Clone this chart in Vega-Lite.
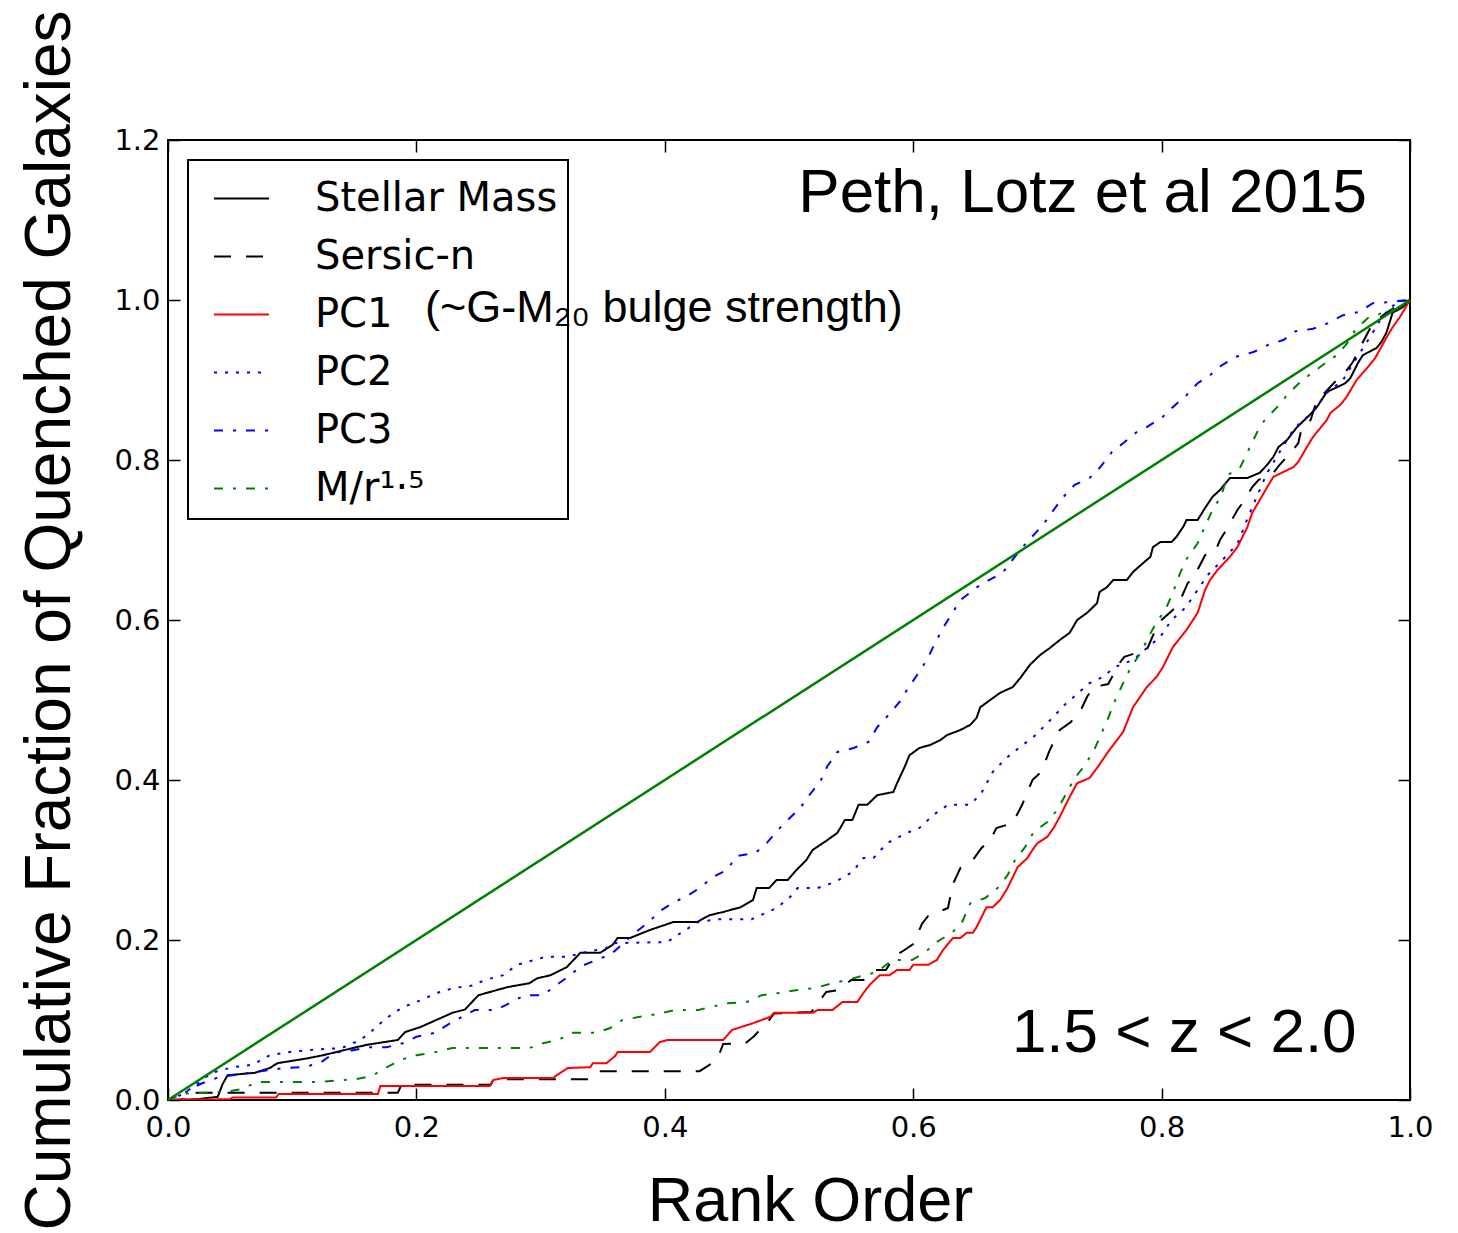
{
  "$schema": "https://vega.github.io/schema/vega-lite/v6.json",
  "width": 1242,
  "height": 960,
  "autosize": {"type": "none"},
  "padding": {"left": 168, "top": 140, "right": 48, "bottom": 133},
  "background": "white",
  "config": {
    "view": {"stroke": "black", "strokeWidth": 2},
    "axis": {
      "domain": false,
      "grid": false,
      "ticks": true,
      "tickColor": "black",
      "tickWidth": 1.5,
      "tickSize": -12,
      "labelFont": "DejaVu Sans",
      "labelFontSize": 29,
      "labelColor": "black",
      "labelFlush": false,
      "labelOverlap": false,
      "labelBound": false,
      "titleFont": "Liberation Sans",
      "titleFontWeight": "normal",
      "titleColor": "black"
    },
    "legend": {
      "orient": "top-left",
      "offset": 20,
      "strokeColor": "black",
      "strokeWidth": 2,
      "padding": 10,
      "labelFont": "DejaVu Sans",
      "labelFontSize": 40,
      "labelColor": "black",
      "labelLimit": 400,
      "labelOffset": 45,
      "symbolType": "stroke",
      "symbolSize": 3025,
      "symbolStrokeWidth": 2,
      "symbolOffset": 15,
      "rowPadding": 9
    }
  },
  "datasets": {
    "curves": [
      {"series": "Stellar Mass", "rank": 0, "frac": 0},
      {"series": "Stellar Mass", "rank": 0.024, "frac": 0.001},
      {"series": "Stellar Mass", "rank": 0.04, "frac": 0.004},
      {"series": "Stellar Mass", "rank": 0.044, "frac": 0.02},
      {"series": "Stellar Mass", "rank": 0.048, "frac": 0.031},
      {"series": "Stellar Mass", "rank": 0.07, "frac": 0.034},
      {"series": "Stellar Mass", "rank": 0.082, "frac": 0.04},
      {"series": "Stellar Mass", "rank": 0.088, "frac": 0.046},
      {"series": "Stellar Mass", "rank": 0.112, "frac": 0.052},
      {"series": "Stellar Mass", "rank": 0.125, "frac": 0.056},
      {"series": "Stellar Mass", "rank": 0.149, "frac": 0.065},
      {"series": "Stellar Mass", "rank": 0.16, "frac": 0.069},
      {"series": "Stellar Mass", "rank": 0.185, "frac": 0.075},
      {"series": "Stellar Mass", "rank": 0.191, "frac": 0.085},
      {"series": "Stellar Mass", "rank": 0.203, "frac": 0.091},
      {"series": "Stellar Mass", "rank": 0.229, "frac": 0.109},
      {"series": "Stellar Mass", "rank": 0.239, "frac": 0.113},
      {"series": "Stellar Mass", "rank": 0.25, "frac": 0.131},
      {"series": "Stellar Mass", "rank": 0.273, "frac": 0.141},
      {"series": "Stellar Mass", "rank": 0.291, "frac": 0.146},
      {"series": "Stellar Mass", "rank": 0.297, "frac": 0.152},
      {"series": "Stellar Mass", "rank": 0.308, "frac": 0.156},
      {"series": "Stellar Mass", "rank": 0.321, "frac": 0.166},
      {"series": "Stellar Mass", "rank": 0.332, "frac": 0.184},
      {"series": "Stellar Mass", "rank": 0.348, "frac": 0.184},
      {"series": "Stellar Mass", "rank": 0.358, "frac": 0.194},
      {"series": "Stellar Mass", "rank": 0.362, "frac": 0.2025},
      {"series": "Stellar Mass", "rank": 0.372, "frac": 0.2025},
      {"series": "Stellar Mass", "rank": 0.388, "frac": 0.2125},
      {"series": "Stellar Mass", "rank": 0.407, "frac": 0.2225},
      {"series": "Stellar Mass", "rank": 0.426, "frac": 0.2225},
      {"series": "Stellar Mass", "rank": 0.436, "frac": 0.231},
      {"series": "Stellar Mass", "rank": 0.447, "frac": 0.235},
      {"series": "Stellar Mass", "rank": 0.461, "frac": 0.241},
      {"series": "Stellar Mass", "rank": 0.471, "frac": 0.25},
      {"series": "Stellar Mass", "rank": 0.474, "frac": 0.265},
      {"series": "Stellar Mass", "rank": 0.484, "frac": 0.265},
      {"series": "Stellar Mass", "rank": 0.49, "frac": 0.275},
      {"series": "Stellar Mass", "rank": 0.499, "frac": 0.275},
      {"series": "Stellar Mass", "rank": 0.506, "frac": 0.2875},
      {"series": "Stellar Mass", "rank": 0.514, "frac": 0.3},
      {"series": "Stellar Mass", "rank": 0.519, "frac": 0.3125},
      {"series": "Stellar Mass", "rank": 0.531, "frac": 0.325},
      {"series": "Stellar Mass", "rank": 0.539, "frac": 0.334},
      {"series": "Stellar Mass", "rank": 0.545, "frac": 0.35},
      {"series": "Stellar Mass", "rank": 0.551, "frac": 0.35},
      {"series": "Stellar Mass", "rank": 0.556, "frac": 0.369},
      {"series": "Stellar Mass", "rank": 0.563, "frac": 0.369},
      {"series": "Stellar Mass", "rank": 0.571, "frac": 0.381},
      {"series": "Stellar Mass", "rank": 0.584, "frac": 0.385},
      {"series": "Stellar Mass", "rank": 0.587, "frac": 0.396},
      {"series": "Stellar Mass", "rank": 0.593, "frac": 0.416},
      {"series": "Stellar Mass", "rank": 0.597, "frac": 0.431},
      {"series": "Stellar Mass", "rank": 0.605, "frac": 0.44},
      {"series": "Stellar Mass", "rank": 0.614, "frac": 0.444},
      {"series": "Stellar Mass", "rank": 0.622, "frac": 0.45},
      {"series": "Stellar Mass", "rank": 0.627, "frac": 0.456},
      {"series": "Stellar Mass", "rank": 0.638, "frac": 0.4625},
      {"series": "Stellar Mass", "rank": 0.646, "frac": 0.469},
      {"series": "Stellar Mass", "rank": 0.651, "frac": 0.4775},
      {"series": "Stellar Mass", "rank": 0.654, "frac": 0.491},
      {"series": "Stellar Mass", "rank": 0.662, "frac": 0.5},
      {"series": "Stellar Mass", "rank": 0.67, "frac": 0.509},
      {"series": "Stellar Mass", "rank": 0.68, "frac": 0.516},
      {"series": "Stellar Mass", "rank": 0.686, "frac": 0.527},
      {"series": "Stellar Mass", "rank": 0.694, "frac": 0.544},
      {"series": "Stellar Mass", "rank": 0.702, "frac": 0.556},
      {"series": "Stellar Mass", "rank": 0.71, "frac": 0.565},
      {"series": "Stellar Mass", "rank": 0.718, "frac": 0.575},
      {"series": "Stellar Mass", "rank": 0.726, "frac": 0.584},
      {"series": "Stellar Mass", "rank": 0.732, "frac": 0.6},
      {"series": "Stellar Mass", "rank": 0.74, "frac": 0.609},
      {"series": "Stellar Mass", "rank": 0.748, "frac": 0.621},
      {"series": "Stellar Mass", "rank": 0.75, "frac": 0.635},
      {"series": "Stellar Mass", "rank": 0.756, "frac": 0.641},
      {"series": "Stellar Mass", "rank": 0.761, "frac": 0.65},
      {"series": "Stellar Mass", "rank": 0.772, "frac": 0.65},
      {"series": "Stellar Mass", "rank": 0.777, "frac": 0.66},
      {"series": "Stellar Mass", "rank": 0.785, "frac": 0.671},
      {"series": "Stellar Mass", "rank": 0.791, "frac": 0.679},
      {"series": "Stellar Mass", "rank": 0.793, "frac": 0.691},
      {"series": "Stellar Mass", "rank": 0.799, "frac": 0.6975},
      {"series": "Stellar Mass", "rank": 0.808, "frac": 0.6975},
      {"series": "Stellar Mass", "rank": 0.812, "frac": 0.704},
      {"series": "Stellar Mass", "rank": 0.818, "frac": 0.718},
      {"series": "Stellar Mass", "rank": 0.82, "frac": 0.725},
      {"series": "Stellar Mass", "rank": 0.829, "frac": 0.725},
      {"series": "Stellar Mass", "rank": 0.835, "frac": 0.74},
      {"series": "Stellar Mass", "rank": 0.841, "frac": 0.754},
      {"series": "Stellar Mass", "rank": 0.847, "frac": 0.7625},
      {"series": "Stellar Mass", "rank": 0.855, "frac": 0.7775},
      {"series": "Stellar Mass", "rank": 0.869, "frac": 0.7775},
      {"series": "Stellar Mass", "rank": 0.879, "frac": 0.784},
      {"series": "Stellar Mass", "rank": 0.885, "frac": 0.794},
      {"series": "Stellar Mass", "rank": 0.89, "frac": 0.804},
      {"series": "Stellar Mass", "rank": 0.894, "frac": 0.816},
      {"series": "Stellar Mass", "rank": 0.901, "frac": 0.825},
      {"series": "Stellar Mass", "rank": 0.909, "frac": 0.841},
      {"series": "Stellar Mass", "rank": 0.915, "frac": 0.85},
      {"series": "Stellar Mass", "rank": 0.919, "frac": 0.856},
      {"series": "Stellar Mass", "rank": 0.925, "frac": 0.866},
      {"series": "Stellar Mass", "rank": 0.933, "frac": 0.885},
      {"series": "Stellar Mass", "rank": 0.948, "frac": 0.896},
      {"series": "Stellar Mass", "rank": 0.952, "frac": 0.9025},
      {"series": "Stellar Mass", "rank": 0.958, "frac": 0.921},
      {"series": "Stellar Mass", "rank": 0.962, "frac": 0.931},
      {"series": "Stellar Mass", "rank": 0.973, "frac": 0.94},
      {"series": "Stellar Mass", "rank": 0.977, "frac": 0.9475},
      {"series": "Stellar Mass", "rank": 0.981, "frac": 0.959},
      {"series": "Stellar Mass", "rank": 0.986, "frac": 0.984},
      {"series": "Stellar Mass", "rank": 0.994, "frac": 0.991},
      {"series": "Stellar Mass", "rank": 1.0, "frac": 1.0},

      {"series": "Sersic-n", "rank": 0, "frac": 0},
      {"series": "Sersic-n", "rank": 0.018, "frac": 0.001},
      {"series": "Sersic-n", "rank": 0.02, "frac": 0.009},
      {"series": "Sersic-n", "rank": 0.185, "frac": 0.009},
      {"series": "Sersic-n", "rank": 0.188, "frac": 0.019},
      {"series": "Sersic-n", "rank": 0.26, "frac": 0.019},
      {"series": "Sersic-n", "rank": 0.262, "frac": 0.026},
      {"series": "Sersic-n", "rank": 0.338, "frac": 0.026},
      {"series": "Sersic-n", "rank": 0.345, "frac": 0.036},
      {"series": "Sersic-n", "rank": 0.428, "frac": 0.036},
      {"series": "Sersic-n", "rank": 0.437, "frac": 0.045},
      {"series": "Sersic-n", "rank": 0.443, "frac": 0.054},
      {"series": "Sersic-n", "rank": 0.447, "frac": 0.07},
      {"series": "Sersic-n", "rank": 0.465, "frac": 0.071},
      {"series": "Sersic-n", "rank": 0.472, "frac": 0.08},
      {"series": "Sersic-n", "rank": 0.478, "frac": 0.09},
      {"series": "Sersic-n", "rank": 0.484, "frac": 0.1},
      {"series": "Sersic-n", "rank": 0.488, "frac": 0.108},
      {"series": "Sersic-n", "rank": 0.518, "frac": 0.11},
      {"series": "Sersic-n", "rank": 0.53, "frac": 0.135},
      {"series": "Sersic-n", "rank": 0.54, "frac": 0.1375},
      {"series": "Sersic-n", "rank": 0.55, "frac": 0.15},
      {"series": "Sersic-n", "rank": 0.56, "frac": 0.15},
      {"series": "Sersic-n", "rank": 0.57, "frac": 0.1625},
      {"series": "Sersic-n", "rank": 0.578, "frac": 0.1625},
      {"series": "Sersic-n", "rank": 0.585, "frac": 0.18},
      {"series": "Sersic-n", "rank": 0.593, "frac": 0.1875},
      {"series": "Sersic-n", "rank": 0.6, "frac": 0.195},
      {"series": "Sersic-n", "rank": 0.607, "frac": 0.22},
      {"series": "Sersic-n", "rank": 0.612, "frac": 0.23},
      {"series": "Sersic-n", "rank": 0.62, "frac": 0.235},
      {"series": "Sersic-n", "rank": 0.628, "frac": 0.24},
      {"series": "Sersic-n", "rank": 0.632, "frac": 0.27},
      {"series": "Sersic-n", "rank": 0.638, "frac": 0.29},
      {"series": "Sersic-n", "rank": 0.648, "frac": 0.3},
      {"series": "Sersic-n", "rank": 0.655, "frac": 0.315},
      {"series": "Sersic-n", "rank": 0.662, "frac": 0.325},
      {"series": "Sersic-n", "rank": 0.667, "frac": 0.34},
      {"series": "Sersic-n", "rank": 0.68, "frac": 0.346},
      {"series": "Sersic-n", "rank": 0.688, "frac": 0.37},
      {"series": "Sersic-n", "rank": 0.696, "frac": 0.4},
      {"series": "Sersic-n", "rank": 0.703, "frac": 0.41},
      {"series": "Sersic-n", "rank": 0.71, "frac": 0.4375},
      {"series": "Sersic-n", "rank": 0.718, "frac": 0.4625},
      {"series": "Sersic-n", "rank": 0.727, "frac": 0.4725},
      {"series": "Sersic-n", "rank": 0.735, "frac": 0.4875},
      {"series": "Sersic-n", "rank": 0.74, "frac": 0.504},
      {"series": "Sersic-n", "rank": 0.745, "frac": 0.516},
      {"series": "Sersic-n", "rank": 0.757, "frac": 0.52},
      {"series": "Sersic-n", "rank": 0.766, "frac": 0.546},
      {"series": "Sersic-n", "rank": 0.77, "frac": 0.554},
      {"series": "Sersic-n", "rank": 0.78, "frac": 0.559},
      {"series": "Sersic-n", "rank": 0.788, "frac": 0.5625},
      {"series": "Sersic-n", "rank": 0.795, "frac": 0.5875},
      {"series": "Sersic-n", "rank": 0.8, "frac": 0.6},
      {"series": "Sersic-n", "rank": 0.809, "frac": 0.6125},
      {"series": "Sersic-n", "rank": 0.814, "frac": 0.621},
      {"series": "Sersic-n", "rank": 0.821, "frac": 0.646},
      {"series": "Sersic-n", "rank": 0.826, "frac": 0.654},
      {"series": "Sersic-n", "rank": 0.835, "frac": 0.681},
      {"series": "Sersic-n", "rank": 0.843, "frac": 0.685},
      {"series": "Sersic-n", "rank": 0.847, "frac": 0.7},
      {"series": "Sersic-n", "rank": 0.853, "frac": 0.715},
      {"series": "Sersic-n", "rank": 0.861, "frac": 0.7375},
      {"series": "Sersic-n", "rank": 0.865, "frac": 0.746},
      {"series": "Sersic-n", "rank": 0.873, "frac": 0.766},
      {"series": "Sersic-n", "rank": 0.878, "frac": 0.775},
      {"series": "Sersic-n", "rank": 0.89, "frac": 0.784},
      {"series": "Sersic-n", "rank": 0.895, "frac": 0.794},
      {"series": "Sersic-n", "rank": 0.904, "frac": 0.809},
      {"series": "Sersic-n", "rank": 0.91, "frac": 0.821},
      {"series": "Sersic-n", "rank": 0.913, "frac": 0.841},
      {"series": "Sersic-n", "rank": 0.92, "frac": 0.85},
      {"series": "Sersic-n", "rank": 0.925, "frac": 0.875},
      {"series": "Sersic-n", "rank": 0.932, "frac": 0.885},
      {"series": "Sersic-n", "rank": 0.941, "frac": 0.9},
      {"series": "Sersic-n", "rank": 0.948, "frac": 0.91},
      {"series": "Sersic-n", "rank": 0.954, "frac": 0.9225},
      {"series": "Sersic-n", "rank": 0.958, "frac": 0.935},
      {"series": "Sersic-n", "rank": 0.966, "frac": 0.959},
      {"series": "Sersic-n", "rank": 0.97, "frac": 0.971},
      {"series": "Sersic-n", "rank": 0.981, "frac": 0.984},
      {"series": "Sersic-n", "rank": 0.988, "frac": 0.991},
      {"series": "Sersic-n", "rank": 1.0, "frac": 1.0},

      {"series": "PC1", "rank": 0, "frac": 0},
      {"series": "PC1", "rank": 0.05, "frac": 0.001},
      {"series": "PC1", "rank": 0.052, "frac": 0.003},
      {"series": "PC1", "rank": 0.087, "frac": 0.003},
      {"series": "PC1", "rank": 0.089, "frac": 0.0075},
      {"series": "PC1", "rank": 0.169, "frac": 0.0075},
      {"series": "PC1", "rank": 0.171, "frac": 0.0175},
      {"series": "PC1", "rank": 0.259, "frac": 0.0175},
      {"series": "PC1", "rank": 0.262, "frac": 0.025},
      {"series": "PC1", "rank": 0.27, "frac": 0.0275},
      {"series": "PC1", "rank": 0.31, "frac": 0.0275},
      {"series": "PC1", "rank": 0.313, "frac": 0.031},
      {"series": "PC1", "rank": 0.322, "frac": 0.04},
      {"series": "PC1", "rank": 0.34, "frac": 0.041},
      {"series": "PC1", "rank": 0.342, "frac": 0.046},
      {"series": "PC1", "rank": 0.353, "frac": 0.046},
      {"series": "PC1", "rank": 0.36, "frac": 0.055},
      {"series": "PC1", "rank": 0.362, "frac": 0.06},
      {"series": "PC1", "rank": 0.388, "frac": 0.06},
      {"series": "PC1", "rank": 0.396, "frac": 0.0725},
      {"series": "PC1", "rank": 0.402, "frac": 0.075},
      {"series": "PC1", "rank": 0.447, "frac": 0.075},
      {"series": "PC1", "rank": 0.454, "frac": 0.0875},
      {"series": "PC1", "rank": 0.471, "frac": 0.096},
      {"series": "PC1", "rank": 0.485, "frac": 0.104},
      {"series": "PC1", "rank": 0.488, "frac": 0.109},
      {"series": "PC1", "rank": 0.519, "frac": 0.109},
      {"series": "PC1", "rank": 0.523, "frac": 0.1125},
      {"series": "PC1", "rank": 0.535, "frac": 0.1125},
      {"series": "PC1", "rank": 0.543, "frac": 0.1225},
      {"series": "PC1", "rank": 0.555, "frac": 0.1225},
      {"series": "PC1", "rank": 0.56, "frac": 0.134},
      {"series": "PC1", "rank": 0.565, "frac": 0.144},
      {"series": "PC1", "rank": 0.573, "frac": 0.156},
      {"series": "PC1", "rank": 0.581, "frac": 0.156},
      {"series": "PC1", "rank": 0.587, "frac": 0.1625},
      {"series": "PC1", "rank": 0.597, "frac": 0.1625},
      {"series": "PC1", "rank": 0.6, "frac": 0.169},
      {"series": "PC1", "rank": 0.612, "frac": 0.169},
      {"series": "PC1", "rank": 0.619, "frac": 0.175},
      {"series": "PC1", "rank": 0.624, "frac": 0.1875},
      {"series": "PC1", "rank": 0.632, "frac": 0.2025},
      {"series": "PC1", "rank": 0.638, "frac": 0.2025},
      {"series": "PC1", "rank": 0.643, "frac": 0.209},
      {"series": "PC1", "rank": 0.648, "frac": 0.209},
      {"series": "PC1", "rank": 0.651, "frac": 0.216},
      {"series": "PC1", "rank": 0.659, "frac": 0.241},
      {"series": "PC1", "rank": 0.664, "frac": 0.241},
      {"series": "PC1", "rank": 0.67, "frac": 0.25},
      {"series": "PC1", "rank": 0.676, "frac": 0.265},
      {"series": "PC1", "rank": 0.684, "frac": 0.291},
      {"series": "PC1", "rank": 0.692, "frac": 0.3025},
      {"series": "PC1", "rank": 0.696, "frac": 0.3125},
      {"series": "PC1", "rank": 0.7, "frac": 0.321},
      {"series": "PC1", "rank": 0.708, "frac": 0.329},
      {"series": "PC1", "rank": 0.713, "frac": 0.34},
      {"series": "PC1", "rank": 0.718, "frac": 0.354},
      {"series": "PC1", "rank": 0.726, "frac": 0.379},
      {"series": "PC1", "rank": 0.732, "frac": 0.396},
      {"series": "PC1", "rank": 0.742, "frac": 0.4025},
      {"series": "PC1", "rank": 0.748, "frac": 0.415},
      {"series": "PC1", "rank": 0.758, "frac": 0.4375},
      {"series": "PC1", "rank": 0.769, "frac": 0.46},
      {"series": "PC1", "rank": 0.777, "frac": 0.491},
      {"series": "PC1", "rank": 0.788, "frac": 0.516},
      {"series": "PC1", "rank": 0.796, "frac": 0.529},
      {"series": "PC1", "rank": 0.801, "frac": 0.541},
      {"series": "PC1", "rank": 0.809, "frac": 0.566},
      {"series": "PC1", "rank": 0.82, "frac": 0.5875},
      {"series": "PC1", "rank": 0.829, "frac": 0.609},
      {"series": "PC1", "rank": 0.835, "frac": 0.6375},
      {"series": "PC1", "rank": 0.839, "frac": 0.65},
      {"series": "PC1", "rank": 0.845, "frac": 0.6625},
      {"series": "PC1", "rank": 0.855, "frac": 0.679},
      {"series": "PC1", "rank": 0.861, "frac": 0.691},
      {"series": "PC1", "rank": 0.869, "frac": 0.716},
      {"series": "PC1", "rank": 0.873, "frac": 0.734},
      {"series": "PC1", "rank": 0.885, "frac": 0.766},
      {"series": "PC1", "rank": 0.89, "frac": 0.779},
      {"series": "PC1", "rank": 0.906, "frac": 0.791},
      {"series": "PC1", "rank": 0.91, "frac": 0.7975},
      {"series": "PC1", "rank": 0.918, "frac": 0.819},
      {"series": "PC1", "rank": 0.922, "frac": 0.829},
      {"series": "PC1", "rank": 0.933, "frac": 0.85},
      {"series": "PC1", "rank": 0.936, "frac": 0.859},
      {"series": "PC1", "rank": 0.944, "frac": 0.869},
      {"series": "PC1", "rank": 0.949, "frac": 0.879},
      {"series": "PC1", "rank": 0.957, "frac": 0.9},
      {"series": "PC1", "rank": 0.962, "frac": 0.909},
      {"series": "PC1", "rank": 0.966, "frac": 0.916},
      {"series": "PC1", "rank": 0.972, "frac": 0.9275},
      {"series": "PC1", "rank": 0.98, "frac": 0.95},
      {"series": "PC1", "rank": 0.986, "frac": 0.966},
      {"series": "PC1", "rank": 0.992, "frac": 0.979},
      {"series": "PC1", "rank": 1.0, "frac": 1.0},

      {"series": "PC2", "rank": 0, "frac": 0},
      {"series": "PC2", "rank": 0.01, "frac": 0.006},
      {"series": "PC2", "rank": 0.02, "frac": 0.016},
      {"series": "PC2", "rank": 0.035, "frac": 0.034},
      {"series": "PC2", "rank": 0.052, "frac": 0.041},
      {"series": "PC2", "rank": 0.068, "frac": 0.044},
      {"series": "PC2", "rank": 0.082, "frac": 0.056},
      {"series": "PC2", "rank": 0.098, "frac": 0.06},
      {"series": "PC2", "rank": 0.114, "frac": 0.0625},
      {"series": "PC2", "rank": 0.14, "frac": 0.065},
      {"series": "PC2", "rank": 0.155, "frac": 0.075},
      {"series": "PC2", "rank": 0.165, "frac": 0.0875},
      {"series": "PC2", "rank": 0.176, "frac": 0.1025},
      {"series": "PC2", "rank": 0.189, "frac": 0.116},
      {"series": "PC2", "rank": 0.204, "frac": 0.125},
      {"series": "PC2", "rank": 0.217, "frac": 0.134},
      {"series": "PC2", "rank": 0.23, "frac": 0.14},
      {"series": "PC2", "rank": 0.245, "frac": 0.143},
      {"series": "PC2", "rank": 0.255, "frac": 0.15},
      {"series": "PC2", "rank": 0.27, "frac": 0.156},
      {"series": "PC2", "rank": 0.281, "frac": 0.169},
      {"series": "PC2", "rank": 0.295, "frac": 0.175},
      {"series": "PC2", "rank": 0.304, "frac": 0.179},
      {"series": "PC2", "rank": 0.321, "frac": 0.179},
      {"series": "PC2", "rank": 0.337, "frac": 0.185},
      {"series": "PC2", "rank": 0.353, "frac": 0.19},
      {"series": "PC2", "rank": 0.358, "frac": 0.196},
      {"series": "PC2", "rank": 0.402, "frac": 0.1975},
      {"series": "PC2", "rank": 0.414, "frac": 0.21},
      {"series": "PC2", "rank": 0.427, "frac": 0.2225},
      {"series": "PC2", "rank": 0.443, "frac": 0.226},
      {"series": "PC2", "rank": 0.47, "frac": 0.226},
      {"series": "PC2", "rank": 0.483, "frac": 0.235},
      {"series": "PC2", "rank": 0.49, "frac": 0.24},
      {"series": "PC2", "rank": 0.501, "frac": 0.254},
      {"series": "PC2", "rank": 0.507, "frac": 0.265},
      {"series": "PC2", "rank": 0.523, "frac": 0.265},
      {"series": "PC2", "rank": 0.537, "frac": 0.2725},
      {"series": "PC2", "rank": 0.551, "frac": 0.285},
      {"series": "PC2", "rank": 0.56, "frac": 0.3025},
      {"series": "PC2", "rank": 0.568, "frac": 0.3025},
      {"series": "PC2", "rank": 0.579, "frac": 0.321},
      {"series": "PC2", "rank": 0.595, "frac": 0.334},
      {"series": "PC2", "rank": 0.605, "frac": 0.34},
      {"series": "PC2", "rank": 0.616, "frac": 0.356},
      {"series": "PC2", "rank": 0.628, "frac": 0.369},
      {"series": "PC2", "rank": 0.646, "frac": 0.369},
      {"series": "PC2", "rank": 0.655, "frac": 0.384},
      {"series": "PC2", "rank": 0.664, "frac": 0.41},
      {"series": "PC2", "rank": 0.675, "frac": 0.4275},
      {"series": "PC2", "rank": 0.685, "frac": 0.44},
      {"series": "PC2", "rank": 0.697, "frac": 0.454},
      {"series": "PC2", "rank": 0.708, "frac": 0.471},
      {"series": "PC2", "rank": 0.722, "frac": 0.494},
      {"series": "PC2", "rank": 0.733, "frac": 0.509},
      {"series": "PC2", "rank": 0.742, "frac": 0.521},
      {"series": "PC2", "rank": 0.753, "frac": 0.529},
      {"series": "PC2", "rank": 0.762, "frac": 0.541},
      {"series": "PC2", "rank": 0.777, "frac": 0.55},
      {"series": "PC2", "rank": 0.789, "frac": 0.566},
      {"series": "PC2", "rank": 0.799, "frac": 0.579},
      {"series": "PC2", "rank": 0.808, "frac": 0.6},
      {"series": "PC2", "rank": 0.819, "frac": 0.615},
      {"series": "PC2", "rank": 0.829, "frac": 0.6375},
      {"series": "PC2", "rank": 0.837, "frac": 0.656},
      {"series": "PC2", "rank": 0.849, "frac": 0.675},
      {"series": "PC2", "rank": 0.861, "frac": 0.695},
      {"series": "PC2", "rank": 0.87, "frac": 0.73},
      {"series": "PC2", "rank": 0.878, "frac": 0.759},
      {"series": "PC2", "rank": 0.885, "frac": 0.784},
      {"series": "PC2", "rank": 0.897, "frac": 0.815},
      {"series": "PC2", "rank": 0.907, "frac": 0.84},
      {"series": "PC2", "rank": 0.921, "frac": 0.859},
      {"series": "PC2", "rank": 0.933, "frac": 0.884},
      {"series": "PC2", "rank": 0.946, "frac": 0.9},
      {"series": "PC2", "rank": 0.956, "frac": 0.925},
      {"series": "PC2", "rank": 0.968, "frac": 0.954},
      {"series": "PC2", "rank": 0.976, "frac": 0.975},
      {"series": "PC2", "rank": 0.984, "frac": 0.991},
      {"series": "PC2", "rank": 0.994, "frac": 0.999},
      {"series": "PC2", "rank": 1.0, "frac": 1.0},

      {"series": "PC3", "rank": 0, "frac": 0},
      {"series": "PC3", "rank": 0.012, "frac": 0.008},
      {"series": "PC3", "rank": 0.026, "frac": 0.02},
      {"series": "PC3", "rank": 0.04, "frac": 0.028},
      {"series": "PC3", "rank": 0.052, "frac": 0.031},
      {"series": "PC3", "rank": 0.081, "frac": 0.0375},
      {"series": "PC3", "rank": 0.094, "frac": 0.04},
      {"series": "PC3", "rank": 0.109, "frac": 0.041},
      {"series": "PC3", "rank": 0.122, "frac": 0.046},
      {"series": "PC3", "rank": 0.134, "frac": 0.059},
      {"series": "PC3", "rank": 0.148, "frac": 0.062},
      {"series": "PC3", "rank": 0.162, "frac": 0.066},
      {"series": "PC3", "rank": 0.176, "frac": 0.066},
      {"series": "PC3", "rank": 0.189, "frac": 0.071},
      {"series": "PC3", "rank": 0.2, "frac": 0.079},
      {"series": "PC3", "rank": 0.215, "frac": 0.084},
      {"series": "PC3", "rank": 0.225, "frac": 0.094},
      {"series": "PC3", "rank": 0.239, "frac": 0.106},
      {"series": "PC3", "rank": 0.247, "frac": 0.1125},
      {"series": "PC3", "rank": 0.264, "frac": 0.1125},
      {"series": "PC3", "rank": 0.275, "frac": 0.121},
      {"series": "PC3", "rank": 0.287, "frac": 0.131},
      {"series": "PC3", "rank": 0.302, "frac": 0.131},
      {"series": "PC3", "rank": 0.313, "frac": 0.144},
      {"series": "PC3", "rank": 0.322, "frac": 0.154},
      {"series": "PC3", "rank": 0.333, "frac": 0.1675},
      {"series": "PC3", "rank": 0.345, "frac": 0.175},
      {"series": "PC3", "rank": 0.357, "frac": 0.1825},
      {"series": "PC3", "rank": 0.366, "frac": 0.195},
      {"series": "PC3", "rank": 0.376, "frac": 0.209},
      {"series": "PC3", "rank": 0.386, "frac": 0.221},
      {"series": "PC3", "rank": 0.396, "frac": 0.236},
      {"series": "PC3", "rank": 0.406, "frac": 0.246},
      {"series": "PC3", "rank": 0.419, "frac": 0.256},
      {"series": "PC3", "rank": 0.428, "frac": 0.265},
      {"series": "PC3", "rank": 0.439, "frac": 0.279},
      {"series": "PC3", "rank": 0.45, "frac": 0.2875},
      {"series": "PC3", "rank": 0.458, "frac": 0.305},
      {"series": "PC3", "rank": 0.473, "frac": 0.309},
      {"series": "PC3", "rank": 0.482, "frac": 0.321},
      {"series": "PC3", "rank": 0.491, "frac": 0.3375},
      {"series": "PC3", "rank": 0.499, "frac": 0.35},
      {"series": "PC3", "rank": 0.509, "frac": 0.365},
      {"series": "PC3", "rank": 0.517, "frac": 0.3825},
      {"series": "PC3", "rank": 0.525, "frac": 0.3975},
      {"series": "PC3", "rank": 0.531, "frac": 0.4175},
      {"series": "PC3", "rank": 0.539, "frac": 0.435},
      {"series": "PC3", "rank": 0.552, "frac": 0.44},
      {"series": "PC3", "rank": 0.564, "frac": 0.4475},
      {"series": "PC3", "rank": 0.571, "frac": 0.466},
      {"series": "PC3", "rank": 0.58, "frac": 0.481},
      {"series": "PC3", "rank": 0.589, "frac": 0.4975},
      {"series": "PC3", "rank": 0.596, "frac": 0.515},
      {"series": "PC3", "rank": 0.603, "frac": 0.531},
      {"series": "PC3", "rank": 0.611, "frac": 0.55},
      {"series": "PC3", "rank": 0.618, "frac": 0.5725},
      {"series": "PC3", "rank": 0.624, "frac": 0.59},
      {"series": "PC3", "rank": 0.63, "frac": 0.605},
      {"series": "PC3", "rank": 0.638, "frac": 0.625},
      {"series": "PC3", "rank": 0.654, "frac": 0.644},
      {"series": "PC3", "rank": 0.672, "frac": 0.659},
      {"series": "PC3", "rank": 0.686, "frac": 0.6875},
      {"series": "PC3", "rank": 0.705, "frac": 0.72},
      {"series": "PC3", "rank": 0.713, "frac": 0.7375},
      {"series": "PC3", "rank": 0.721, "frac": 0.754},
      {"series": "PC3", "rank": 0.73, "frac": 0.769},
      {"series": "PC3", "rank": 0.742, "frac": 0.7775},
      {"series": "PC3", "rank": 0.75, "frac": 0.79},
      {"series": "PC3", "rank": 0.76, "frac": 0.81},
      {"series": "PC3", "rank": 0.769, "frac": 0.821},
      {"series": "PC3", "rank": 0.78, "frac": 0.835},
      {"series": "PC3", "rank": 0.788, "frac": 0.841},
      {"series": "PC3", "rank": 0.801, "frac": 0.854},
      {"series": "PC3", "rank": 0.809, "frac": 0.866},
      {"series": "PC3", "rank": 0.82, "frac": 0.881},
      {"series": "PC3", "rank": 0.829, "frac": 0.896},
      {"series": "PC3", "rank": 0.839, "frac": 0.906},
      {"series": "PC3", "rank": 0.849, "frac": 0.919},
      {"series": "PC3", "rank": 0.86, "frac": 0.929},
      {"series": "PC3", "rank": 0.874, "frac": 0.935},
      {"series": "PC3", "rank": 0.886, "frac": 0.944},
      {"series": "PC3", "rank": 0.898, "frac": 0.95},
      {"series": "PC3", "rank": 0.908, "frac": 0.961},
      {"series": "PC3", "rank": 0.922, "frac": 0.964},
      {"series": "PC3", "rank": 0.934, "frac": 0.971},
      {"series": "PC3", "rank": 0.946, "frac": 0.981},
      {"series": "PC3", "rank": 0.959, "frac": 0.985},
      {"series": "PC3", "rank": 0.97, "frac": 0.996},
      {"series": "PC3", "rank": 0.984, "frac": 0.9975},
      {"series": "PC3", "rank": 1.0, "frac": 1.0},

      {"series": "M/r¹·⁵", "rank": 0, "frac": 0},
      {"series": "M/r¹·⁵", "rank": 0.012, "frac": 0.008},
      {"series": "M/r¹·⁵", "rank": 0.032, "frac": 0.009},
      {"series": "M/r¹·⁵", "rank": 0.05, "frac": 0.011},
      {"series": "M/r¹·⁵", "rank": 0.06, "frac": 0.014},
      {"series": "M/r¹·⁵", "rank": 0.072, "frac": 0.0225},
      {"series": "M/r¹·⁵", "rank": 0.121, "frac": 0.0225},
      {"series": "M/r¹·⁵", "rank": 0.151, "frac": 0.026},
      {"series": "M/r¹·⁵", "rank": 0.164, "frac": 0.03},
      {"series": "M/r¹·⁵", "rank": 0.175, "frac": 0.04},
      {"series": "M/r¹·⁵", "rank": 0.187, "frac": 0.05},
      {"series": "M/r¹·⁵", "rank": 0.2, "frac": 0.056},
      {"series": "M/r¹·⁵", "rank": 0.213, "frac": 0.059},
      {"series": "M/r¹·⁵", "rank": 0.229, "frac": 0.065},
      {"series": "M/r¹·⁵", "rank": 0.291, "frac": 0.065},
      {"series": "M/r¹·⁵", "rank": 0.302, "frac": 0.071},
      {"series": "M/r¹·⁵", "rank": 0.314, "frac": 0.075},
      {"series": "M/r¹·⁵", "rank": 0.326, "frac": 0.084},
      {"series": "M/r¹·⁵", "rank": 0.345, "frac": 0.084},
      {"series": "M/r¹·⁵", "rank": 0.356, "frac": 0.09},
      {"series": "M/r¹·⁵", "rank": 0.366, "frac": 0.1},
      {"series": "M/r¹·⁵", "rank": 0.38, "frac": 0.104},
      {"series": "M/r¹·⁵", "rank": 0.394, "frac": 0.1075},
      {"series": "M/r¹·⁵", "rank": 0.408, "frac": 0.1125},
      {"series": "M/r¹·⁵", "rank": 0.427, "frac": 0.1125},
      {"series": "M/r¹·⁵", "rank": 0.436, "frac": 0.116},
      {"series": "M/r¹·⁵", "rank": 0.451, "frac": 0.121},
      {"series": "M/r¹·⁵", "rank": 0.466, "frac": 0.1225},
      {"series": "M/r¹·⁵", "rank": 0.478, "frac": 0.131},
      {"series": "M/r¹·⁵", "rank": 0.493, "frac": 0.134},
      {"series": "M/r¹·⁵", "rank": 0.507, "frac": 0.1375},
      {"series": "M/r¹·⁵", "rank": 0.521, "frac": 0.14},
      {"series": "M/r¹·⁵", "rank": 0.535, "frac": 0.146},
      {"series": "M/r¹·⁵", "rank": 0.547, "frac": 0.15},
      {"series": "M/r¹·⁵", "rank": 0.561, "frac": 0.156},
      {"series": "M/r¹·⁵", "rank": 0.571, "frac": 0.16},
      {"series": "M/r¹·⁵", "rank": 0.583, "frac": 0.175},
      {"series": "M/r¹·⁵", "rank": 0.599, "frac": 0.175},
      {"series": "M/r¹·⁵", "rank": 0.609, "frac": 0.184},
      {"series": "M/r¹·⁵", "rank": 0.619, "frac": 0.1975},
      {"series": "M/r¹·⁵", "rank": 0.631, "frac": 0.209},
      {"series": "M/r¹·⁵", "rank": 0.639, "frac": 0.221},
      {"series": "M/r¹·⁵", "rank": 0.646, "frac": 0.246},
      {"series": "M/r¹·⁵", "rank": 0.658, "frac": 0.2525},
      {"series": "M/r¹·⁵", "rank": 0.668, "frac": 0.265},
      {"series": "M/r¹·⁵", "rank": 0.676, "frac": 0.281},
      {"series": "M/r¹·⁵", "rank": 0.682, "frac": 0.3},
      {"series": "M/r¹·⁵", "rank": 0.69, "frac": 0.316},
      {"series": "M/r¹·⁵", "rank": 0.697, "frac": 0.335},
      {"series": "M/r¹·⁵", "rank": 0.708, "frac": 0.3475},
      {"series": "M/r¹·⁵", "rank": 0.716, "frac": 0.3625},
      {"series": "M/r¹·⁵", "rank": 0.73, "frac": 0.4025},
      {"series": "M/r¹·⁵", "rank": 0.737, "frac": 0.416},
      {"series": "M/r¹·⁵", "rank": 0.745, "frac": 0.435},
      {"series": "M/r¹·⁵", "rank": 0.757, "frac": 0.4775},
      {"series": "M/r¹·⁵", "rank": 0.762, "frac": 0.4975},
      {"series": "M/r¹·⁵", "rank": 0.769, "frac": 0.521},
      {"series": "M/r¹·⁵", "rank": 0.775, "frac": 0.54},
      {"series": "M/r¹·⁵", "rank": 0.784, "frac": 0.561},
      {"series": "M/r¹·⁵", "rank": 0.789, "frac": 0.5775},
      {"series": "M/r¹·⁵", "rank": 0.796, "frac": 0.5975},
      {"series": "M/r¹·⁵", "rank": 0.803, "frac": 0.6125},
      {"series": "M/r¹·⁵", "rank": 0.809, "frac": 0.634},
      {"series": "M/r¹·⁵", "rank": 0.815, "frac": 0.659},
      {"series": "M/r¹·⁵", "rank": 0.82, "frac": 0.676},
      {"series": "M/r¹·⁵", "rank": 0.829, "frac": 0.696},
      {"series": "M/r¹·⁵", "rank": 0.835, "frac": 0.7175},
      {"series": "M/r¹·⁵", "rank": 0.841, "frac": 0.7375},
      {"series": "M/r¹·⁵", "rank": 0.848, "frac": 0.755},
      {"series": "M/r¹·⁵", "rank": 0.853, "frac": 0.781},
      {"series": "M/r¹·⁵", "rank": 0.863, "frac": 0.79},
      {"series": "M/r¹·⁵", "rank": 0.87, "frac": 0.8125},
      {"series": "M/r¹·⁵", "rank": 0.877, "frac": 0.835},
      {"series": "M/r¹·⁵", "rank": 0.883, "frac": 0.85},
      {"series": "M/r¹·⁵", "rank": 0.893, "frac": 0.866},
      {"series": "M/r¹·⁵", "rank": 0.901, "frac": 0.881},
      {"series": "M/r¹·⁵", "rank": 0.91, "frac": 0.895},
      {"series": "M/r¹·⁵", "rank": 0.917, "frac": 0.904},
      {"series": "M/r¹·⁵", "rank": 0.93, "frac": 0.919},
      {"series": "M/r¹·⁵", "rank": 0.941, "frac": 0.931},
      {"series": "M/r¹·⁵", "rank": 0.949, "frac": 0.945},
      {"series": "M/r¹·⁵", "rank": 0.956, "frac": 0.9625},
      {"series": "M/r¹·⁵", "rank": 0.966, "frac": 0.9775},
      {"series": "M/r¹·⁵", "rank": 0.978, "frac": 0.984},
      {"series": "M/r¹·⁵", "rank": 0.992, "frac": 0.99},
      {"series": "M/r¹·⁵", "rank": 1.0, "frac": 1.0}
    ],
    "diagonal": [
      {"rank": 0, "frac": 0},
      {"rank": 1, "frac": 1}
    ],
    "notes": [
      {"note": "annotation"}
    ]
  },
  "layer": [
    {
      "data": {"name": "curves"},
      "mark": {"type": "line", "strokeWidth": 2, "clip": true},
      "encoding": {
        "x": {
          "field": "rank",
          "type": "quantitative",
          "scale": {"domain": [0, 1], "nice": false, "zero": false},
          "axis": {
            "orient": "bottom",
            "values": [0, 0.2, 0.4, 0.6, 0.8, 1.0],
            "format": ".1f",
            "labelPadding": 25,
            "title": "Rank Order",
            "titleFontSize": 63,
            "titlePadding": 28,
            "titleX": 642
          }
        },
        "y": {
          "field": "frac",
          "type": "quantitative",
          "scale": {"domain": [0, 1.2], "nice": false, "zero": false},
          "axis": {
            "orient": "left",
            "values": [0, 0.2, 0.4, 0.6, 0.8, 1.0, 1.2],
            "format": ".1f",
            "labelPadding": 20,
            "title": "Cumulative Fraction of Quenched Galaxies",
            "titleFontSize": 64,
            "titlePadding": 31
          }
        },
        "color": {
          "field": "series",
          "type": "nominal",
          "scale": {
            "domain": ["Stellar Mass", "Sersic-n", "PC1", "PC2", "PC3", "M/r¹·⁵"],
            "range": ["#000000", "#000000", "#ff0000", "#0000ff", "#0000ff", "#008000"]
          },
          "legend": {"title": null}
        },
        "strokeDash": {
          "field": "series",
          "type": "nominal",
          "scale": {
            "domain": ["Stellar Mass", "Sersic-n", "PC1", "PC2", "PC3", "M/r¹·⁵"],
            "range": [[1, 0], [17, 15], [1, 0], [3, 8], [9, 10, 3, 10], [9, 10, 3, 10]]
          },
          "legend": {"title": null}
        }
      }
    },
    {
      "data": {"name": "diagonal"},
      "mark": {"type": "line", "color": "#008000", "strokeWidth": 2.5},
      "encoding": {
        "x": {
          "field": "rank",
          "type": "quantitative",
          "axis": {
            "orient": "top",
            "values": [0, 0.2, 0.4, 0.6, 0.8, 1.0],
            "labels": false,
            "title": null
          }
        },
        "y": {
          "field": "frac",
          "type": "quantitative",
          "axis": {
            "orient": "right",
            "values": [0, 0.2, 0.4, 0.6, 0.8, 1.0, 1.2],
            "labels": false,
            "title": null
          }
        }
      }
    },
    {
      "data": {"name": "notes"},
      "mark": {
        "type": "text",
        "text": "Peth, Lotz et al 2015",
        "font": "Liberation Sans",
        "fontSize": 62,
        "align": "right",
        "baseline": "alphabetic",
        "color": "black"
      },
      "encoding": {
        "x": {"datum": 0.9654, "type": "quantitative", "axis": null},
        "y": {"datum": 1.11, "type": "quantitative", "axis": null}
      }
    },
    {
      "data": {"name": "notes"},
      "mark": {
        "type": "text",
        "text": "1.5 < z < 2.0",
        "font": "Liberation Sans",
        "fontSize": 62,
        "align": "right",
        "baseline": "alphabetic",
        "color": "black"
      },
      "encoding": {
        "x": {"datum": 0.957, "type": "quantitative", "axis": null},
        "y": {"datum": 0.06, "type": "quantitative", "axis": null}
      }
    },
    {
      "data": {"name": "notes"},
      "mark": {
        "type": "text",
        "text": "(~G-M₂₀ bulge strength)",
        "font": "Liberation Sans",
        "fontSize": 45,
        "align": "left",
        "baseline": "alphabetic",
        "color": "black"
      },
      "encoding": {
        "x": {"datum": 0.207, "type": "quantitative", "axis": null},
        "y": {"datum": 0.9725, "type": "quantitative", "axis": null}
      }
    }
  ],
  "resolve": {"axis": {"x": "independent", "y": "independent"}}
}
